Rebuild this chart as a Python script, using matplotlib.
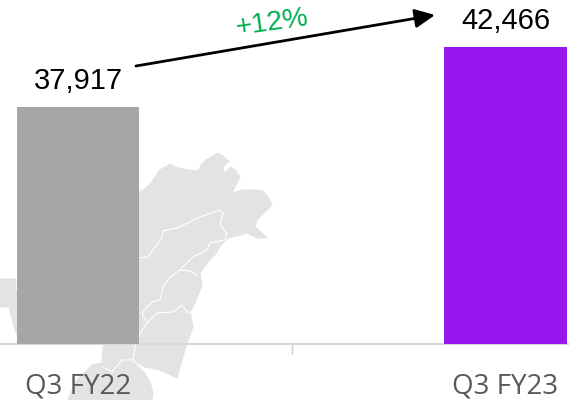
"""Q3 FY22 vs Q3 FY23 bar chart with map backdrop"""
import matplotlib
matplotlib.use("Agg")
import matplotlib.pyplot as plt
from matplotlib.patches import Polygon

categories = ["Q3 FY22", "Q3 FY23"]
values = [37917, 42466]
value_labels = ["37,917", "42,466"]
bar_colors = ["#a6a6a6", "#9718ee"]
growth_label = "+12%"

# backdrop map, picture pixels (x right, y down)
map_main = [(138, 193), (146, 188), (152, 182), (155, 177), (160, 170), (170, 164), (178, 168), (187, 170),
            (199, 171), (201, 165), (206, 160), (218, 153), (224, 157), (229, 161), (223, 167), (224, 173),
            (231, 167), (236, 171), (240, 177), (236, 185), (232, 193), (243, 190), (255, 190), (263, 191),
            (268, 197), (272, 205), (264, 213), (257, 220), (255, 227), (262, 233), (267, 238), (257, 238),
            (247, 233), (236, 236), (228, 238), (220, 246), (217, 252), (208, 262), (200, 273), (202, 285),
            (198, 295), (195, 303), (190, 312), (193, 327), (187, 343), (182, 360), (177, 378), (160, 370),
            (145, 367), (133, 360), (143, 370), (150, 382), (153, 393), (152, 400),
            (68, 400), (72, 390), (77, 380), (92, 365), (102, 363), (103, 347), (107, 343), (100, 300), (100, 193)]
map_left = [(0, 279), (15, 279), (16, 287), (7, 307), (0, 307)]
map_sliver = [(7, 300), (17, 290), (20, 340), (15, 330)]
map_lines = [
    [(138, 258), (148, 257), (155, 247), (162, 238), (163, 231), (177, 228), (200, 217), (220, 210), (223, 213),
     (220, 225), (227, 233), (225, 240), (210, 243), (207, 250), (193, 257), (180, 270), (170, 277),
     (163, 287), (160, 300), (152, 302), (142, 313), (147, 323), (140, 333), (135, 347), (133, 360), (143, 370)],
    [(180, 270), (190, 271), (197, 275)],
    [(147, 323), (157, 313), (173, 312), (182, 305), (187, 312), (192, 312)],
    [(103, 367), (112, 372), (122, 360), (133, 360)],
]

fig = plt.figure(figsize=(5.69, 4.0), dpi=100)

bg = fig.add_axes([0, 0, 1, 1])
bg.set_xlim(0, 569)
bg.set_ylim(400, 0)
bg.axis("off")
for pts in [map_main, map_left, map_sliver]:
    bg.add_patch(Polygon(pts, closed=True, facecolor="#e3e3e3", edgecolor="#e3e3e3", lw=0.8, joinstyle="round"))
for line in map_lines:
    bg.plot([p[0] for p in line], [p[1] for p in line], color="white", lw=0.8)

ax = fig.add_axes([0, 56 / 400, 1, 344 / 400])
ax.patch.set_alpha(0)
ax.set_xlim(-78 / 427.5, 491 / 427.5)
ax.set_ylim(20000, 46021)
ax.bar(range(2), values, width=0.286, color=bar_colors, zorder=3)
ax.set_xticks(range(2))
ax.set_xticklabels(categories, fontsize=20, color="#595959", family="Open Sans")
ax.tick_params(axis="x", length=0, pad=20.5)
ax.set_xticks([0.5], minor=True)
ax.tick_params(axis="x", which="minor", length=7, width=1, color="#d0d0d0")
ax.set_yticks([])
[ax.spines[i].set_visible(False) for i in ["top", "right", "left"]]
ax.spines["bottom"].set_color("#d9d9d9")
ax.spines["bottom"].set_linewidth(1.5)

for i in range(2):
    ax.annotate(value_labels[i], (i, values[i]), xytext=(0, 8.5), textcoords="offset points",
                ha="center", va="bottom", fontsize=21, color="black", family="Liberation Sans")

# growth arrow, figure pixels measured from the bottom left
ax.annotate("", xy=(435, 400 - 15), xycoords="figure pixels",
            xytext=(136, 400 - 66), textcoords="figure pixels",
            arrowprops=dict(arrowstyle="-|>,head_length=0.55,head_width=0.26", color="black", lw=2,
                            mutation_scale=22, shrinkA=0, shrinkB=0))
fig.text(271.5 / 569, 1 - 23 / 400, growth_label, color="#00b050", fontsize=20.5, rotation=8,
         ha="center", va="center", family="Liberation Sans")

fig.savefig("out.png", dpi=100)
